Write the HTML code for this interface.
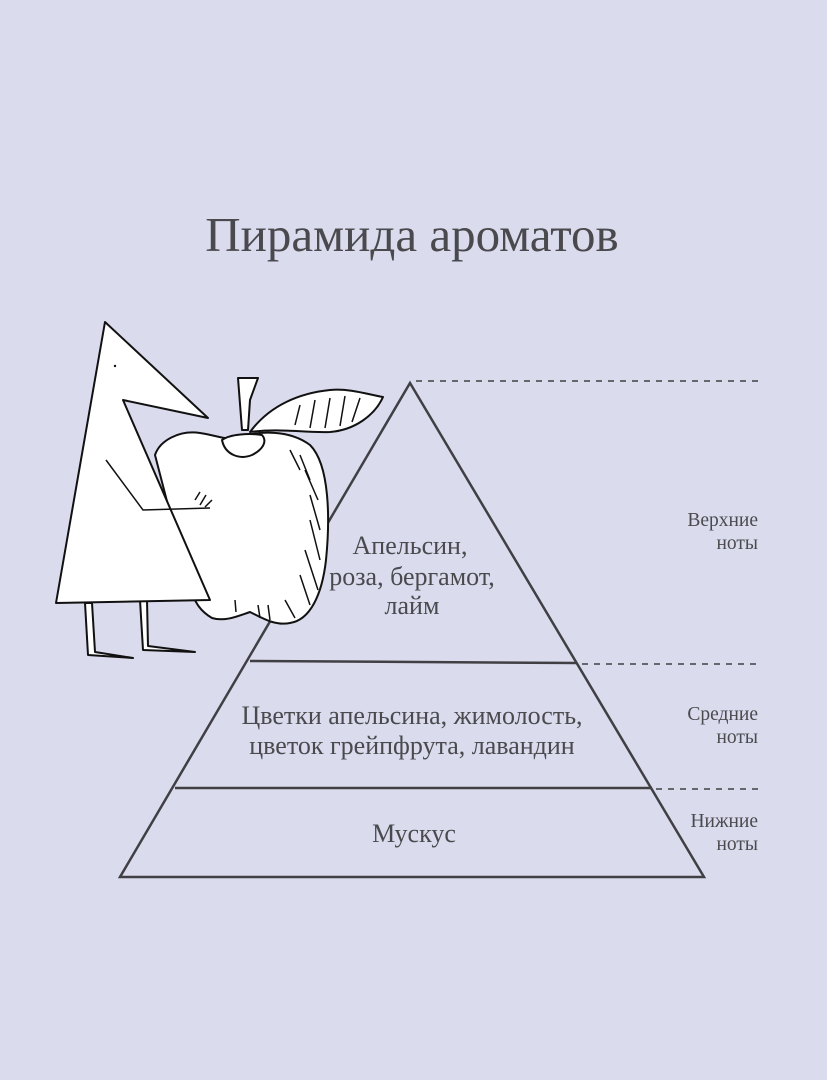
<!DOCTYPE html>
<html><head><meta charset="utf-8"><style>
html,body{margin:0;padding:0;background:#dadcee;}
svg{display:block}
text{font-family:"Liberation Serif","DejaVu Serif",serif;fill:#4a4a4e}
</style></head><body>
<svg width="827" height="1080" viewBox="0 0 827 1080" xmlns="http://www.w3.org/2000/svg">
<rect width="827" height="1080" fill="#dadcee"/>
<text x="412" y="251" font-size="49" text-anchor="middle">Пирамида ароматов</text>
<g stroke="#3f3f44" stroke-width="2.5" fill="none">
<polygon points="410,383 704,877 120,877"/>
<line x1="250" y1="661" x2="577" y2="663"/>
<line x1="175" y1="788" x2="652" y2="788"/>
</g>
<g stroke="#3f3f44" stroke-width="1.5" stroke-dasharray="6,6">
<line x1="416" y1="381" x2="760" y2="381"/>
<line x1="582" y1="664" x2="760" y2="664"/>
<line x1="656" y1="789" x2="760" y2="789"/>
</g>
<g font-size="26" text-anchor="middle">
<text x="410" y="554">Апельсин,</text>
<text x="412" y="585">роза, бергамот,</text>
<text x="412" y="614">лайм</text>
<text x="412" y="724">Цветки апельсина, жимолость,</text>
<text x="412" y="754">цветок грейпфрута, лавандин</text>
<text x="414" y="842">Мускус</text>
</g>
<g font-size="19.5" text-anchor="end">
<text x="758" y="526">Верхние</text>
<text x="758" y="549">ноты</text>
<text x="758" y="720">Средние</text>
<text x="758" y="743">ноты</text>
<text x="758" y="827">Нижние</text>
<text x="758" y="850">ноты</text>
</g>
<g stroke="#111" stroke-width="2" fill="#fff" stroke-linejoin="round">
<path d="M85,603 L88,655 L133,658 L95,652 L92,603 Z"/>
<path d="M140,600 L143,650 L195,652 L148,646 L147,600 Z"/>
<path d="M155,455 C160,440 180,430 200,433 C215,435 225,440 235,438 C260,430 290,430 310,445 C330,465 330,520 326,560 C322,595 310,620 290,623 C275,626 262,618 250,612 C238,616 225,622 212,618 C198,610 195,600 190,590 Z"/>
<path d="M238,378 L242,430 L248,430 L250,400 L258,378 Z" />
<path d="M250,432 C270,405 300,393 330,390 C350,388 370,395 383,397 C375,415 355,430 330,432 C305,433 280,428 250,432 Z"/>
<path d="M222,440 C225,455 240,460 252,455 C262,450 268,442 262,435 C250,433 230,434 222,440 Z"/>
<path d="M105,322 L208,418 L123,400 L210,600 L56,603 Z"/>
</g>
<g stroke="#111" stroke-width="1.5" fill="none">
<path d="M106,460 L143,510 L210,508"/>
<path d="M195,500 L200,492 M200,505 L206,495 M205,507 L212,500"/>
<path d="M290,450 L300,470 M300,455 L310,480 M305,470 L318,500 M310,495 L320,530 M310,520 L320,560 M305,550 L318,590 M300,575 L310,605 M285,600 L295,618 M268,605 L270,620 M258,605 L260,618 M235,600 L236,612"/>
<path d="M300,405 L295,425 M315,400 L310,428 M330,398 L325,428 M345,396 L340,426 M360,398 L352,422"/>
</g>
<circle cx="115" cy="366" r="1.2" fill="#111"/>
</svg>
</body></html>
